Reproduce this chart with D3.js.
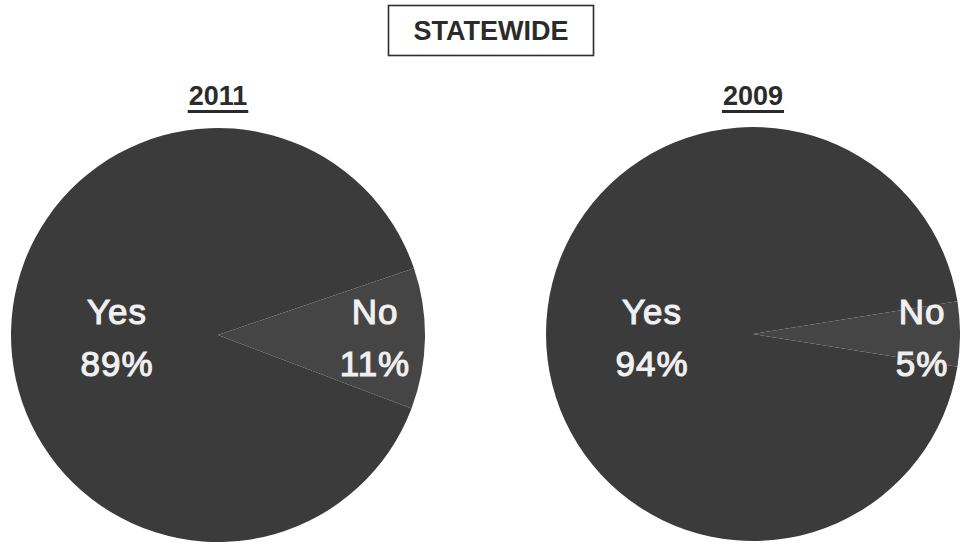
<!DOCTYPE html>
<html>
<head>
<meta charset="utf-8">
<script src="https://cdn.jsdelivr.net/npm/d3@7"></script>
<style>
  html, body { margin: 0; padding: 0; background: #ffffff; }
  svg { display: block; }
</style>
</head>
<body>
<svg id="chart" width="960" height="544"></svg>
<script>
// Statewide survey: share answering Yes / No, two survey years
const title = "STATEWIDE";
const years = ["2011", "2009"];
const categories = ["Yes", "No"];
const values2011 = [89, 11];
const values2009 = [94, 5];

const svg = d3.select("#chart");

// Title box
const titleG = svg.append("g");
titleG.append("rect")
  .attr("x", 388.5).attr("y", 5.5).attr("width", 205).attr("height", 50)
  .attr("fill", "#ffffff").attr("stroke", "#2e2e2e").attr("stroke-width", 1.6);
titleG.append("text")
  .attr("x", 491).attr("y", 40)
  .attr("text-anchor", "middle")
  .attr("font-family", "Liberation Sans, Arial, sans-serif")
  .attr("font-weight", "bold").attr("font-size", 27)
  .attr("fill", "#2b2b2b")
  .text(title);

const pies = [
  { year: years[0], values: values2011, cx: 218, cy: 335, r: 207, noMid: 91 * Math.PI / 180,
    labelX: [117, 375] },
  { year: years[1], values: values2009, cx: 753, cy: 334, r: 207, noMid: 90 * Math.PI / 180,
    labelX: [652, 922] }
];

const fills = { Yes: "#3b3b3b", No: "#454545" };

pies.forEach(p => {
  const total = d3.sum(p.values);
  const noSpan = 2 * Math.PI * p.values[1] / total;
  // Rotate so the No slice sits around 3 o'clock
  const start = p.noMid + noSpan / 2;
  const pie = d3.pie().sort(null).startAngle(start).endAngle(start + 2 * Math.PI);
  const arcs = pie(p.values);
  const arc = d3.arc().innerRadius(0).outerRadius(p.r);

  const g = svg.append("g").attr("transform", `translate(${p.cx},${p.cy})`);
  g.selectAll("path").data(arcs).join("path")
    .attr("d", arc)
    .attr("fill", (d, i) => fills[categories[i]]);

  // Year heading with underline
  const head = svg.append("text")
    .attr("x", p.cx).attr("y", 105)
    .attr("text-anchor", "middle")
    .attr("font-family", "Liberation Sans, Arial, sans-serif")
    .attr("font-weight", "bold").attr("font-size", 27)
    .attr("fill", "#2b2b2b")
    .text(p.year);
  const bb = head.node().getBBox();
  svg.append("rect")
    .attr("x", bb.x - 1).attr("y", 110).attr("width", bb.width + 2).attr("height", 3)
    .attr("fill", "#2b2b2b");

  // Slice labels
  categories.forEach((c, i) => {
    const lx = p.labelX[i];
    const t = svg.append("text")
      .attr("text-anchor", "middle")
      .attr("font-family", "Liberation Sans, Arial, sans-serif")
      .attr("font-size", 35)
      .attr("letter-spacing", 1)
      .attr("fill", "#f0f0f0")
      .attr("stroke", "#f0f0f0").attr("stroke-width", 1.1);
    t.append("tspan").attr("x", lx).attr("y", 324).text(c);
    t.append("tspan").attr("x", lx).attr("y", 376).text(p.values[i] + "%");
  });
});
</script>
</body>
</html>
